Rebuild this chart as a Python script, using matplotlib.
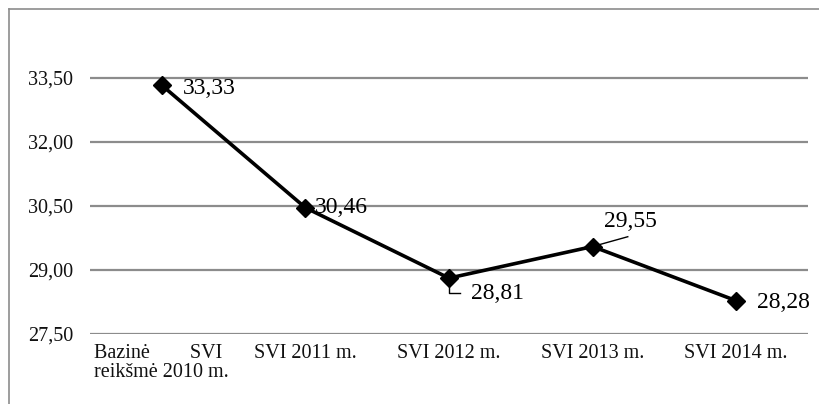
import numpy as np
import matplotlib.pyplot as plt
from matplotlib.lines import Line2D

# data
categories = ["Bazinė        SVI\nreikšmė 2010 m.", "SVI 2011 m.", "SVI 2012 m.", "SVI 2013 m.", "SVI 2014 m."]
values = [33.33, 30.46, 28.81, 29.55, 28.28]
yticks = [27.50, 29.00, 30.50, 32.00, 33.50]

plt.rcParams['font.family'] = ['Liberation Serif', 'DejaVu Serif']

fig = plt.figure(figsize=(8.2, 4.04), dpi=100)
ax = fig.add_axes([90/820, 1-334/404, 718/820, 320/404])

x = np.arange(len(values))
ax.plot(x, values, color='black', lw=2.6, marker='D', ms=9, zorder=3)

ax.set_xlim(-0.5, len(values)-0.5)
ax.set_ylim(27.5, 35.0)
ax.set_yticks(yticks)
ax.set_yticklabels([f"{v:.2f}".replace('.', ',') for v in yticks])
ax.set_xticks(x)
ax.set_xticklabels(categories, multialignment='left', linespacing=1.0)
ax.tick_params(axis='both', length=0, labelsize=14.5, colors='#111111')
ax.tick_params(axis='x', pad=7)
ax.tick_params(axis='y', pad=12)
for s in ax.spines.values():
    s.set_visible(False)
for t in yticks:
    ax.axhline(t, color='#8c8c8c', lw=1.6, zorder=1)

fs = 17
lab = [f"{v:.2f}".replace('.', ',') for v in values]
# data labels
ax.annotate(lab[0], (x[0], values[0]), xytext=(15, -2), textcoords='offset points',
            ha='left', va='center', fontsize=fs)
ax.annotate(lab[1], (x[1], values[1]), xytext=(7, 0), textcoords='offset points',
            ha='left', va='center', fontsize=fs)
ax.annotate(lab[2], (x[2], values[2]), xytext=(16, -11), textcoords='offset points',
            ha='left', va='center', fontsize=fs)
ax.plot([x[2], x[2], x[2]+0.075], [values[2], values[2]-0.35, values[2]-0.35],
        color='black', lw=1.0, zorder=2)
ax.annotate(lab[3], (x[3], values[3]), xytext=(8.5, 18), textcoords='offset points',
            ha='left', va='center', fontsize=fs)
ax.plot([x[3], x[3]+0.245], [values[3], values[3]+0.23], color='black', lw=1.0, zorder=2)
ax.annotate(lab[4], (x[4], values[4]), xytext=(15, -1.5), textcoords='offset points',
            ha='left', va='center', fontsize=fs)

# outer chart border (top and left visible)
fig.add_artist(Line2D([9/820, 1.0], [1-9/404, 1-9/404], color='#8c8c8c', lw=1.2))
fig.add_artist(Line2D([9/820, 9/820], [0.0, 1-9/404], color='#8c8c8c', lw=1.2))

fig.savefig('out.png', dpi=100)
